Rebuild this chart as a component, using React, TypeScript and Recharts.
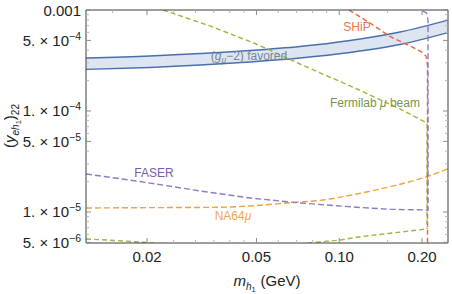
import { ComposedChart, Line, Area, XAxis, YAxis } from "recharts"

const W = 452
const H = 294
const PLOT = { left: 86, right: 448, top: 10, bottom: 243 }
const FONT = "'Liberation Sans', Arial, sans-serif"

const X_DOMAIN = [0.012, 0.2486]
const Y_DOMAIN = [4.93e-6, 1e-3]

const X_MAJOR = [0.02, 0.05, 0.1, 0.2]
const X_MAJOR_LABELS = ["0.02", "0.05", "0.10", "0.20"]
const X_MINOR = [0.015, 0.025, 0.03, 0.035, 0.04, 0.045, 0.06, 0.07, 0.08, 0.09, 0.15]

const Y_MAJOR = [1e-3, 5e-4, 1e-4, 5e-5, 1e-5, 5e-6]
const Y_MANTISSA = ["0.001", "5. × 10", "1. × 10", "5. × 10", "1. × 10", "5. × 10"]
const Y_EXPONENT = ["", "−4", "−4", "−5", "−5", "−6"]
const Y_MINOR = [
  9e-4, 8e-4, 7e-4, 6e-4, 4e-4, 3e-4, 2e-4,
  9e-5, 8e-5, 7e-5, 6e-5, 4e-5, 3e-5, 2e-5,
  9e-6, 8e-6, 7e-6, 6e-6,
]

// (g_mu - 2) favored band
const BAND_X = [0.012, 0.0205, 0.0312, 0.0474, 0.072, 0.1094, 0.1664, 0.2486]
const BAND_UPPER = [3.35e-4, 3.5e-4, 3.71e-4, 3.97e-4, 4.35e-4, 4.99e-4, 6.06e-4, 7.95e-4]
const BAND_LOWER = [2.58e-4, 2.7e-4, 2.85e-4, 3.06e-4, 3.35e-4, 3.8e-4, 4.55e-4, 5.98e-4]

// Fermilab mu beam: upper edge + vertical cut, and the two lower pieces
const FERMI_UP_X = [0.02287, 0.03389, 0.04941, 0.072, 0.116, 0.1664, 0.2086, 0.2086]
const FERMI_UP_Y = [1e-3, 6.95e-4, 4.66e-4, 2.92e-4, 1.651e-4, 1.047e-4, 7.61e-5, 6.79e-6]
const FERMI_LOW_R_X = [0.072, 0.07944, 0.1006, 0.1157, 0.153, 0.2086]
const FERMI_LOW_R_Y = [4.82e-6, 4.966e-6, 5.28e-6, 5.617e-6, 6.152e-6, 6.79e-6]
const FERMI_LOW_L_X = [0.012, 0.0153, 0.01967, 0.02325]
const FERMI_LOW_L_Y = [5.4e-6, 5.22e-6, 4.99e-6, 4.82e-6]

// SHiP
const SHIP_X = [0.1085, 0.1294, 0.153, 0.1809, 0.1983, 0.2068, 0.2094, 0.2094]
const SHIP_Y = [1e-3, 7.43e-4, 5.466e-4, 4.4e-4, 3.882e-4, 3.504e-4, 2.853e-4, 4.7e-6]

// FASER
const FASER_X = [0.012, 0.01885, 0.0312, 0.0474, 0.072, 0.116, 0.153, 0.2103, 0.2103, 0.2077, 0.1983, 0.1934]
const FASER_Y = [2.378e-5, 2.004e-5, 1.614e-5, 1.376e-5, 1.228e-5, 1.113e-5, 1.063e-5, 1.046e-5, 7.96e-4, 9.34e-4, 1e-3, 1.047e-3]

// NA64mu
const NA64_X = [0.012, 0.01885, 0.03686, 0.0474, 0.06623, 0.0873, 0.1157, 0.153, 0.208, 0.2486]
const NA64_Y = [1.095e-5, 1.103e-5, 1.113e-5, 1.147e-5, 1.236e-5, 1.315e-5, 1.508e-5, 1.78e-5, 2.236e-5, 2.68e-5]

const toPoints = (xs: number[], ys: number[]) => xs.map((x, i) => ({ x, y: ys[i] }))

const bandData = BAND_X.map((x, i) => ({ x, range: [BAND_LOWER[i], BAND_UPPER[i]] }))

const X_TICKS = [...X_MAJOR, ...X_MINOR]
const Y_TICKS = [...Y_MAJOR, ...Y_MINOR]

const tickColor = (major: boolean) => (major ? "#8a8a8a" : "#b5b5b5")

const BottomTick = (props: any) => {
  const { x, payload } = props
  const idx = X_MAJOR.indexOf(payload.value)
  const major = idx >= 0
  return (
    <g>
      <line x1={x} x2={x} y1={PLOT.bottom} y2={PLOT.bottom - (major ? 5 : 3)} stroke={tickColor(major)} />
      {major && (
        <text x={x} y={PLOT.bottom + 19} textAnchor="middle" fontSize={15} fill="#222" fontFamily={FONT}>
          {X_MAJOR_LABELS[idx]}
        </text>
      )}
    </g>
  )
}

const TopTick = (props: any) => {
  const { x, payload } = props
  const major = X_MAJOR.includes(payload.value)
  return <line x1={x} x2={x} y1={PLOT.top} y2={PLOT.top + (major ? 5 : 3)} stroke={tickColor(major)} />
}

const LeftTick = (props: any) => {
  const { y, payload } = props
  const idx = Y_MAJOR.indexOf(payload.value)
  const major = idx >= 0
  return (
    <g>
      <line x1={PLOT.left} x2={PLOT.left + (major ? 5 : 3)} y1={y} y2={y} stroke={tickColor(major)} />
      {major && (
        <text x={PLOT.left - 5} y={y + 5.5} textAnchor="end" fontSize={15} fill="#222" fontFamily={FONT}>
          {Y_MANTISSA[idx]}
          {Y_EXPONENT[idx] && (
            <tspan dy={-6} fontSize={10.5}>
              {Y_EXPONENT[idx]}
            </tspan>
          )}
        </text>
      )}
    </g>
  )
}

const RightTick = (props: any) => {
  const { y, payload } = props
  const major = Y_MAJOR.includes(payload.value)
  return <line x1={PLOT.right} x2={PLOT.right - (major ? 5 : 3)} y1={y} y2={y} stroke={tickColor(major)} />
}

const frame = { stroke: "#3c3c3c", strokeWidth: 1 }
const LW = 1.4

export default function App() {
  return (
    <div style={{ position: "absolute", left: 0, top: 0, width: W, height: H, background: "#fff" }}>
      <ComposedChart
        width={W}
        height={H}
        margin={{ top: PLOT.top, right: W - PLOT.right, bottom: 0, left: 0 }}
      >
        <XAxis
          xAxisId="b"
          dataKey="x"
          type="number"
          scale="log"
          domain={X_DOMAIN}
          allowDataOverflow
          ticks={X_TICKS}
          interval={0}
          tick={BottomTick}
          tickLine={false}
          tickSize={0}
          tickMargin={0}
          axisLine={frame}
          height={H - PLOT.bottom}
        />
        <XAxis
          xAxisId="t"
          orientation="top"
          mirror
          dataKey="x"
          type="number"
          scale="log"
          domain={X_DOMAIN}
          allowDataOverflow
          ticks={X_TICKS}
          interval={0}
          tick={TopTick}
          tickLine={false}
          tickSize={0}
          tickMargin={0}
          axisLine={frame}
        />
        <YAxis
          yAxisId="l"
          type="number"
          scale="log"
          domain={Y_DOMAIN}
          allowDataOverflow
          ticks={Y_TICKS}
          interval={0}
          tick={LeftTick}
          tickLine={false}
          tickSize={0}
          tickMargin={0}
          axisLine={frame}
          width={PLOT.left}
        />
        <YAxis
          yAxisId="r"
          orientation="right"
          mirror
          type="number"
          scale="log"
          domain={Y_DOMAIN}
          allowDataOverflow
          ticks={Y_TICKS}
          interval={0}
          tick={RightTick}
          tickLine={false}
          tickSize={0}
          tickMargin={0}
          axisLine={frame}
        />

        <Area
          xAxisId="b"
          yAxisId="l"
          data={bandData}
          dataKey="range"
          type="monotone"
          fill="#dde5f0"
          fillOpacity={1}
          stroke="#4a6fae"
          strokeWidth={1.4}
          isAnimationActive={false}
        />

        <Line xAxisId="b" yAxisId="l" data={toPoints(FERMI_UP_X, FERMI_UP_Y)} dataKey="y" type="linear"
          stroke="#9cb73c" strokeWidth={LW} strokeDasharray="5 3" dot={false} isAnimationActive={false} />
        <Line xAxisId="b" yAxisId="l" data={toPoints(FERMI_LOW_R_X, FERMI_LOW_R_Y)} dataKey="y" type="monotone"
          stroke="#9cb73c" strokeWidth={LW} strokeDasharray="5 3" dot={false} isAnimationActive={false} />
        <Line xAxisId="b" yAxisId="l" data={toPoints(FERMI_LOW_L_X, FERMI_LOW_L_Y)} dataKey="y" type="monotone"
          stroke="#9cb73c" strokeWidth={LW} strokeDasharray="5 3" dot={false} isAnimationActive={false} />
        <Line xAxisId="b" yAxisId="l" data={toPoints(NA64_X, NA64_Y)} dataKey="y" type="monotone"
          stroke="#efa43a" strokeWidth={LW} strokeDasharray="6 3" dot={false} isAnimationActive={false} />
        <Line xAxisId="b" yAxisId="l" data={toPoints(SHIP_X, SHIP_Y)} dataKey="y" type="linear"
          stroke="#e8673c" strokeWidth={LW} strokeDasharray="5 3" dot={false} isAnimationActive={false} />
        <Line xAxisId="b" yAxisId="l" data={toPoints(FASER_X, FASER_Y)} dataKey="y" type="linear"
          stroke="#8c7cc6" strokeWidth={LW} strokeDasharray="6 3" dot={false} isAnimationActive={false} />
      </ComposedChart>

      <svg width={W} height={H} style={{ position: "absolute", left: 0, top: 0, pointerEvents: "none" }} fontFamily={FONT}>
        <text x={249} y={60} textAnchor="middle" fontSize={12} fill="#76869c">
          (<tspan fontStyle="italic">g</tspan>
          <tspan fontSize={8.5} dy={3} fontStyle="italic">μ</tspan>
          <tspan dy={-3}>−2) favored</tspan>
        </text>
        <text x={357} y={31} textAnchor="middle" fontSize={12} fill="#e5784c">SHiP</text>
        <text x={375} y={107} textAnchor="middle" fontSize={12} fill="#779646">
          Fermilab <tspan fontStyle="italic">μ</tspan> beam
        </text>
        <text x={154} y={177} textAnchor="middle" fontSize={12} fill="#7a5ca6">FASER</text>
        <text x={233} y={220} textAnchor="middle" fontSize={12} fill="#f0a650">
          NA64<tspan fontStyle="italic">μ</tspan>
        </text>

        <text x={267} y={286} textAnchor="middle" fontSize={15} fill="#222">
          <tspan fontStyle="italic">m</tspan>
          <tspan fontSize={10} dy={4} fontStyle="italic">h</tspan>
          <tspan fontSize={7.5} dy={2}>1</tspan>
          <tspan dy={-6} dx={5}>(GeV)</tspan>
        </text>
        <text transform="translate(15,126) rotate(-90)" textAnchor="middle" fontSize={15} fill="#222">
          (<tspan fontStyle="italic">y</tspan>
          <tspan fontSize={10} dy={4} fontStyle="italic">eh</tspan>
          <tspan fontSize={7.5} dy={2}>1</tspan>
          <tspan dy={-6}>)</tspan>
          <tspan fontSize={10} dy={4}>22</tspan>
        </text>
      </svg>
    </div>
  )
}
